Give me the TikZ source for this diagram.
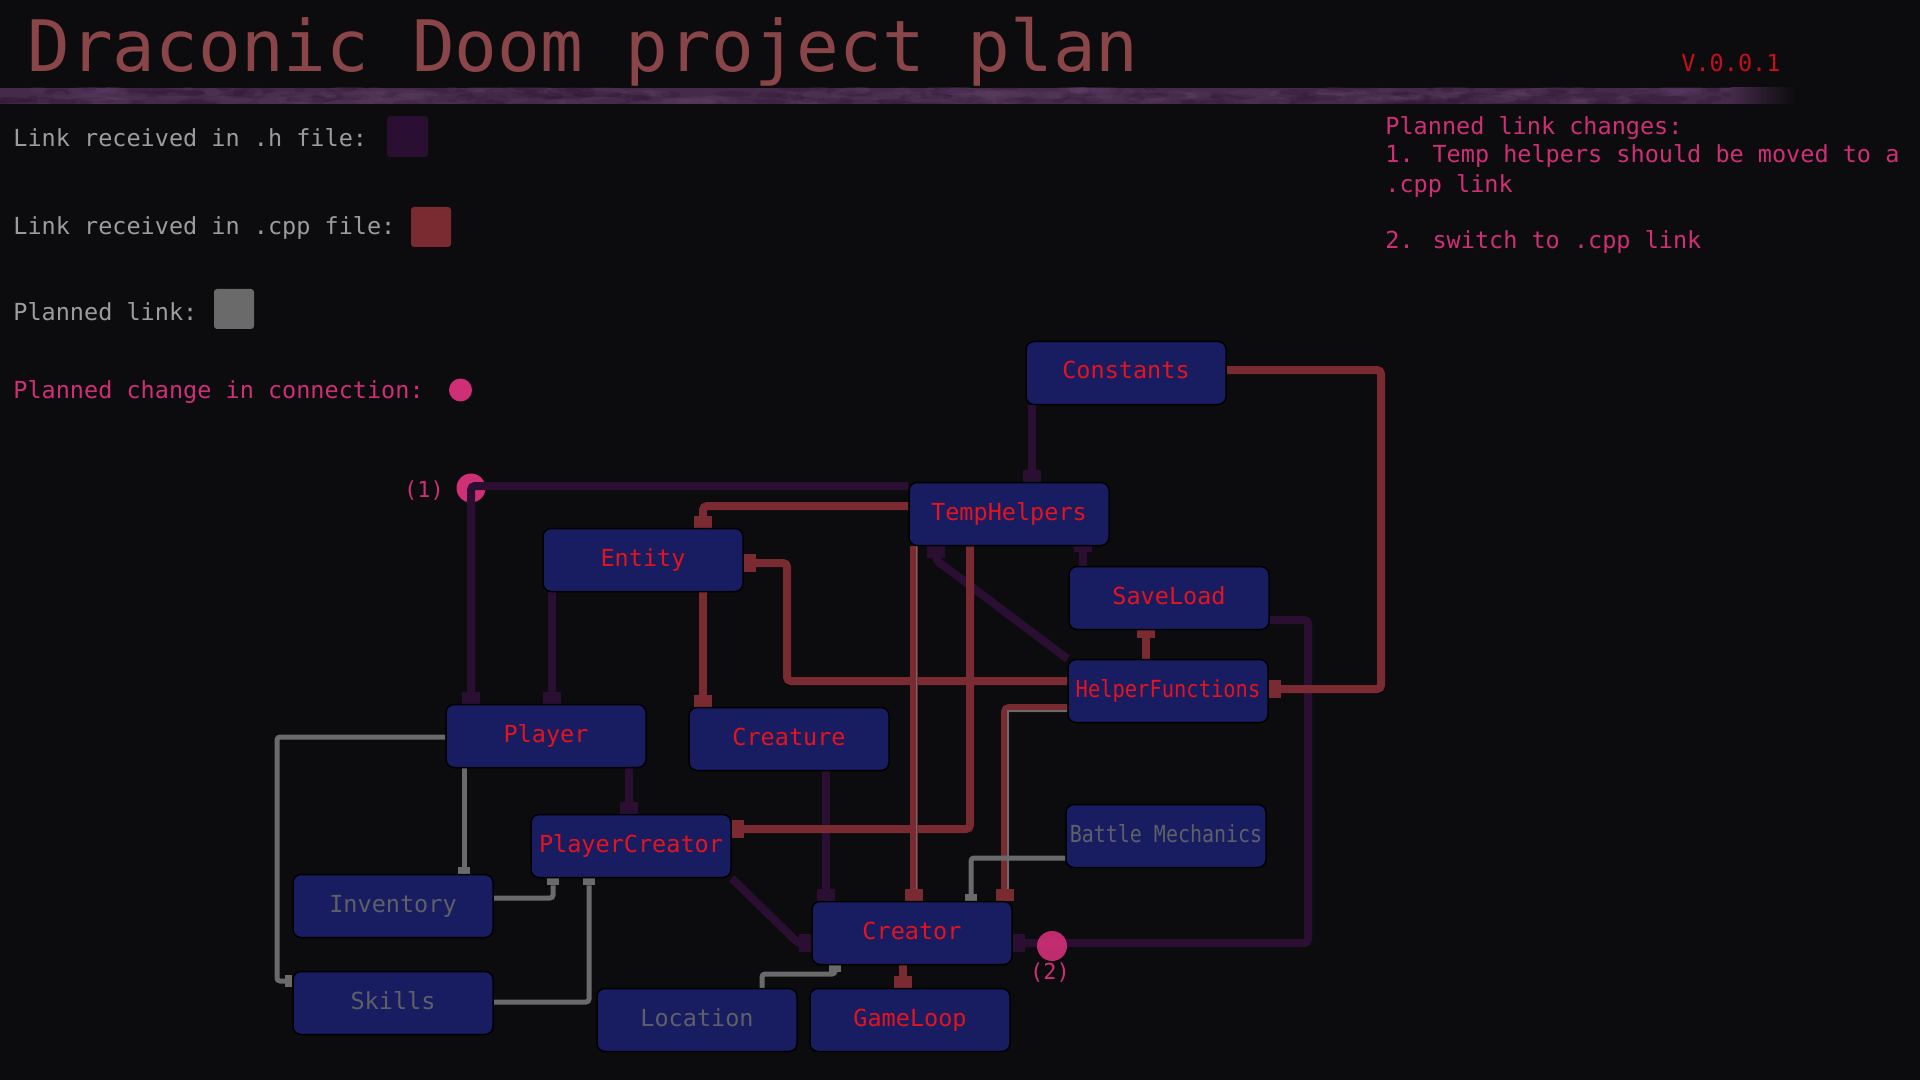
\documentclass[tikz,border=0pt]{standalone}
\usepackage{fontspec}
\usepackage{graphicx}
\setmainfont{DejaVu Sans Mono}
\usetikzlibrary{arrows.meta,backgrounds}

\definecolor{bgcol}{HTML}{0C0C0E}
\definecolor{boxcol}{HTML}{181D62}
\definecolor{namecol}{HTML}{E3141D}
\definecolor{plancol}{HTML}{5F5F67}
\definecolor{hcol}{HTML}{2B0F33}
\definecolor{cppcol}{HTML}{7A2A31}
\definecolor{graycol}{HTML}{6A6A6A}
\definecolor{pinkcol}{HTML}{CF2F76}
\definecolor{legendcol}{HTML}{9C9C9C}
\definecolor{titlecol}{HTML}{8A4549}
\definecolor{barcol}{HTML}{452A4A}
\definecolor{barlight}{HTML}{6B4A70}
\definecolor{bardark}{HTML}{2C1631}
\definecolor{vercol}{HTML}{C4101A}

\tikzset{
  module/.style={draw=black, line width=0.75pt, fill=boxcol, rounded corners=4pt,
    minimum width=100pt, minimum height=31.5pt, inner sep=0pt, text=namecol,
    text height=8.5pt, text depth=2.5pt,
    font=\fontsize{11.75}{14}\selectfont},
  planned/.style={module, text=plancol},
  hlink/.style={draw=hcol, line width=4pt, rounded corners=2pt,
    -{Rectangle[width=9pt,length=6pt,line width=0pt]}},
  cpplink/.style={draw=cppcol, line width=4pt, rounded corners=2pt,
    -{Rectangle[width=9pt,length=6pt,line width=0pt]}},
  planlink/.style={draw=graycol, line width=2.5pt, rounded corners=1.5pt,
    -{Rectangle[width=6pt,length=3.5pt,line width=0pt]}},
  planthin/.style={draw=graycol, line width=0.8pt},
  legend/.style={anchor=base west, inner sep=0pt, text=legendcol,
    font=\fontsize{11.75}{14}\selectfont},
  note/.style={legend, text=pinkcol},
  marklabel/.style={inner sep=0pt, text=pinkcol, font=\fontsize{11}{13}\selectfont},
}

\begin{document}
\begin{tikzpicture}[x=0.5pt, y=-0.5pt]
  \useasboundingbox (0,0) rectangle (1920,1080);
  \begin{scope}[on background layer]
    \fill[bgcol] (0,0) rectangle (1920,1080);
  \end{scope}

  % header
  \node[anchor=base west, inner sep=0pt, text=titlecol,
    font=\fontsize{35.5}{40}\selectfont] (title) at (27,72) {Draconic Doom project plan};
  \node[legend, text=vercol] (version) at (1681,72) {V.0.0.1};
  \fill[barcol] (0,88) rectangle (1732,104);
  \begin{scope}
    \clip (0,88) rectangle (1732,104);
    \pgfmathsetseed{17}
    \foreach \i in {1,...,160} {
      \pgfmathsetmacro{\bx}{rnd*1732}
      \pgfmathsetmacro{\by}{88+rnd*16}
      \pgfmathsetmacro{\br}{5+rnd*22}
      \fill[barlight, opacity=0.16] (\bx,\by) ellipse [x radius=\br, y radius=4];
      \pgfmathsetmacro{\bx}{rnd*1732}
      \pgfmathsetmacro{\by}{88+rnd*16}
      \fill[bardark, opacity=0.25] (\bx,\by) ellipse [x radius=\br, y radius=3];
    }
  \end{scope}
  \shade[left color=barcol, right color=bgcol] (1731,88) rectangle (1795,104);

  % legend
  \node[legend] (leg h) at (13,147) {Link received in .h file:};
  \fill[hcol, rounded corners=1.5pt] (387,116) rectangle (428,157);
  \node[legend] (leg cpp) at (13,235) {Link received in .cpp file:};
  \fill[cppcol, rounded corners=1.5pt] (411,207) rectangle (451,247);
  \node[legend] (leg plan) at (13,321) {Planned link:};
  \fill[graycol, rounded corners=1.5pt] (214,289) rectangle (254,329);
  \node[note] (leg change) at (13,398) {Planned change in connection:};
  \fill[pinkcol] (460.5,390) circle[radius=11.5];

  % planned changes
  \node[note] (note0) at (1385,135) {Planned link changes:};
  \node[note] (note1) at (1385,163) {1. Temp helpers should be moved to a};
  \node[note] (note2) at (1385,193) {.cpp link};
  \node[note] (note3) at (1385,249) {2. switch to .cpp link};

  % modules
  \node[module] (constants) at (1126,373) {Constants};
  \node[module] (temphelpers) at (1009,514) {TempHelpers};
  \node[module] (entity) at (643,560) {Entity};
  \node[module] (saveload) at (1169,598) {SaveLoad};
  \node[module] (helperfunctions) at (1168,691) {\scalebox{0.87}[1]{HelperFunctions}};
  \node[module] (player) at (546,736) {Player};
  \node[module] (creature) at (789,739) {Creature};
  \node[module] (playercreator) at (631,846) {PlayerCreator};
  \node[planned] (battle) at (1166,836) {\scalebox{0.85}[1]{Battle Mechanics}};
  \node[planned] (inventory) at (393,906) {Inventory};
  \node[module] (creator) at (912,933) {Creator};
  \node[planned] (skills) at (393,1003) {Skills};
  \node[planned] (location) at (697,1020) {Location};
  \node[module] (gameloop) at (910,1020) {GameLoop};

  \node[marklabel] (mark1) at (424,491) {(1)};
  \node[marklabel] (mark2) at (1050,973) {(2)};

  \begin{scope}[on background layer]
    \fill[pinkcol] (471,488) circle[radius=14.5];
    % .h links
    \draw[hlink] (constants.south -| 1032,0) -- (temphelpers.north -| 1032,0);
    \draw[hlink] (temphelpers.west |- 0,486) -- (471,486) -- (player.north -| 471,0);
    \draw[hlink] (entity.south -| 552,0) -- (player.north -| 552,0);
    \draw[hlink] (helperfunctions.north west) -- (936,560) -- (temphelpers.south -| 936,0);
    \draw[hlink, -{Rectangle[width=9pt,length=3pt,line width=0pt]}]
      (saveload.north -| 1083,0) -- (temphelpers.south -| 1083,0);
    \draw[hlink] (saveload.east |- 0,620) -- (1308,620) -- (1308,943) -- (creator.east |- 0,943);
    \draw[hlink] (creature.south -| 826,0) -- (creator.north -| 826,0);
    \draw[hlink] (playercreator.south east) -- (798,943) -- (creator.west |- 0,943);
    \draw[hlink] (player.south -| 629,0) -- (playercreator.north -| 629,0);
    \fill[pinkcol, opacity=0.92] (1052,946) circle[radius=15];

    % .cpp links
    \draw[cpplink] (constants.east |- 0,370) -- (1381,370) -- (1381,689)
      -- (helperfunctions.east |- 0,689);
    \draw[cpplink] (temphelpers.west |- 0,506) -- (703,506) -- (entity.north -| 703,0);
    \draw[cpplink] (entity.south -| 703,0) -- (creature.north -| 703,0);
    \draw[cpplink] (helperfunctions.west |- 0,681) -- (787,681) -- (787,563)
      -- (entity.east |- 0,563);
    \draw[cpplink] (temphelpers.south -| 914,0) -- (creator.north -| 914,0);
    \draw[cpplink] (temphelpers.south -| 970,0) -- (970,829) -- (playercreator.east |- 0,829);
    \draw[cpplink, -{Rectangle[width=9pt,length=4pt,line width=0pt]}]
      (helperfunctions.north -| 1146,0) -- (saveload.south -| 1146,0);
    \draw[cpplink] (creator.south -| 903,0) -- (gameloop.north -| 903,0);
    \draw[cpplink] (helperfunctions.west |- 0,708) -- (1005,708) -- (creator.north -| 1005,0);
    \draw[planthin] (temphelpers.south -| 916.5,0) -- (916.5,889);
    \draw[planthin] (helperfunctions.west |- 0,711) -- (1008,711) -- (1008,889);

    % planned links
    \draw[planlink] (player.south -| 464,0) -- (inventory.north -| 464,0);
    \draw[planlink] (player.west |- 0,737) -- (277,737) -- (277,981) -- (skills.west |- 0,981);
    \draw[planlink] (inventory.east |- 0,898) -- (553,898) -- (playercreator.south -| 553,0);
    \draw[planlink] (skills.east |- 0,1002) -- (589,1002) -- (playercreator.south -| 589,0);
    \draw[planlink] (location.north -| 762,0) -- (762,974) -- (835,974) -- (creator.south -| 835,0);
    \draw[planlink] (battle.west |- 0,858) -- (971,858) -- (creator.north -| 971,0);
  \end{scope}
\end{tikzpicture}
\end{document}
